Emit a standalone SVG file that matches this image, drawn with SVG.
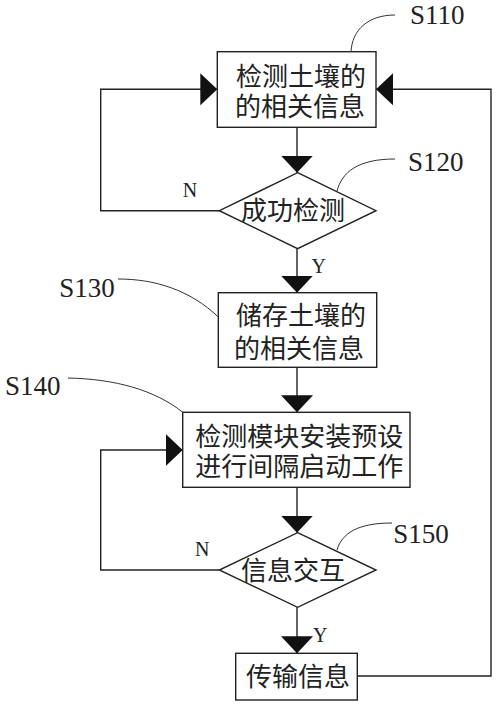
<svg xmlns="http://www.w3.org/2000/svg" width="500" height="706" viewBox="0 0 500 706">
<style>
.box{fill:#fff;stroke:#222;stroke-width:1.4}
.ln{fill:none;stroke:#222;stroke-width:1.4}
.lead{fill:none;stroke:#333;stroke-width:1}
.cn{font-family:"Noto Sans CJK SC","Noto Sans",sans-serif;font-size:26px;fill:#222;text-anchor:middle}
.lb{font-family:"Liberation Serif",serif;font-size:27px;fill:#222}
.yn{font-family:"Liberation Serif",serif;font-size:20px;fill:#222}
</style>
<defs>
<marker id="ah" viewBox="0 0 17 32" refX="17" refY="16" markerWidth="17" markerHeight="32" markerUnits="userSpaceOnUse" orient="auto">
<path d="M0,0 L17,16 L0,32 Z" fill="#111"/>
</marker>
</defs>
<rect width="500" height="706" fill="#fff"/>
<g id="connectors">
<path class="ln" d="M297,127 V172.7" marker-end="url(#ah)"/>
<path class="ln" d="M219.3,210.7 H100.7 V89.3 H217.3" marker-end="url(#ah)"/>
<path class="ln" d="M297,248.7 V292.7" marker-end="url(#ah)"/>
<path class="ln" d="M297,367.3 V412.3" marker-end="url(#ah)"/>
<path class="ln" d="M297,487.3 V532.7" marker-end="url(#ah)"/>
<path class="ln" d="M219.3,570 H100.7 V450 H182.7" marker-end="url(#ah)"/>
<path class="ln" d="M297,607.3 V653.3" marker-end="url(#ah)"/>
<path class="ln" d="M357.3,676 H491 V89.3 H376" marker-end="url(#ah)"/>
<text class="yn" x="182.7" y="196.7">N</text>
<text class="yn" x="311.5" y="273.3">Y</text>
<text class="yn" x="195" y="556">N</text>
<text class="yn" x="313" y="641.7">Y</text>
</g>
<g id="S110">
<rect class="box" x="217.3" y="51.7" width="158.7" height="75.6"/>
<text class="cn" x="301" y="86">检测土壤的</text>
<text class="cn" x="300" y="116">的相关信息</text>
<path class="lead" d="M351,52 C352,30 368,15 395,15"/>
<text class="lb" x="410" y="23.5">S110</text>
</g>
<g id="S120">
<polygon class="box" points="297.6,172.7 376,210.7 297.6,248.7 219.3,210.7"/>
<text class="cn" x="293" y="220">成功检测</text>
<path class="lead" d="M337,191 C342,172 358,159 395,159"/>
<text class="lb" x="408" y="170.7">S120</text>
</g>
<g id="S130">
<rect class="box" x="218.3" y="292.7" width="158.4" height="74.6"/>
<text class="cn" x="301" y="325">储存土壤的</text>
<text class="cn" x="299" y="358">的相关信息</text>
<path class="lead" d="M118,279 C155,279 190,290 218.3,317"/>
<text class="lb" x="59.3" y="297.3">S130</text>
</g>
<g id="S140">
<rect class="box" x="182.7" y="412.3" width="227.3" height="75"/>
<text class="cn" x="299.3" y="446">检测模块安装预设</text>
<text class="cn" x="299.3" y="476">进行间隔启动工作</text>
<path class="lead" d="M68,378 C115,379 155,390 182.7,412.3"/>
<text class="lb" x="5" y="395">S140</text>
</g>
<g id="S150">
<polygon class="box" points="297.6,532.7 376,570 297.6,607.3 219.3,570"/>
<text class="cn" x="293" y="580">信息交互</text>
<path class="lead" d="M337,550 C342,533 358,523 392,523"/>
<text class="lb" x="393.3" y="542.7">S150</text>
</g>
<g id="transmit">
<rect class="box" x="235.7" y="653.3" width="121.6" height="46.7"/>
<text class="cn" x="298" y="686">传输信息</text>
</g>
</svg>
